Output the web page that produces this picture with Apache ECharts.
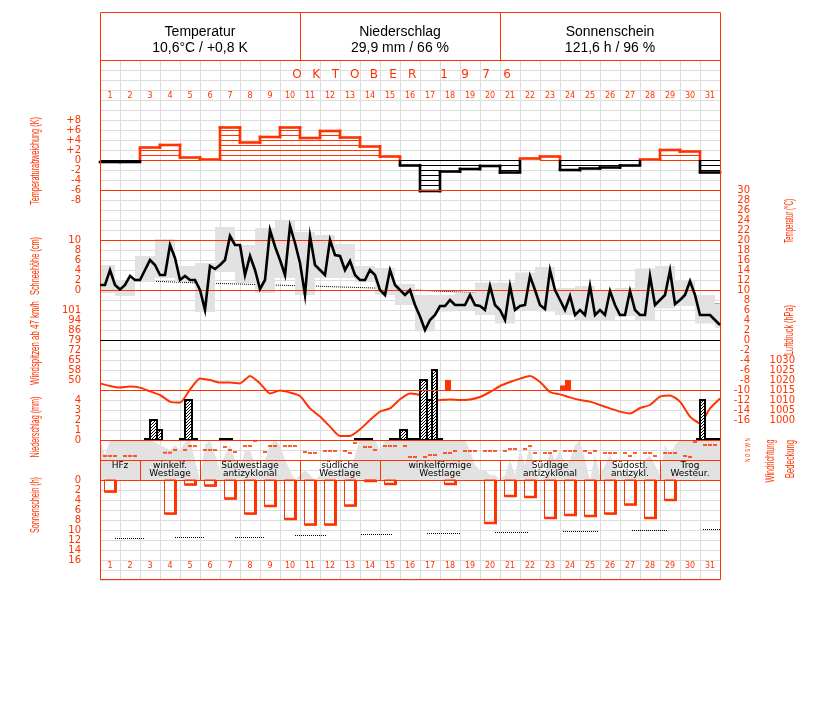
<!DOCTYPE html>
<html>
<head>
<meta charset="utf-8">
<script src="https://cdn.jsdelivr.net/npm/echarts@6.0.0/dist/echarts.min.js"></script>
<style>
html,body{margin:0;padding:0;background:#ffffff;}
#chart{width:827px;height:702px;}
</style>
</head>
<body>
<div id="chart"></div>
<script>
// ================= DATA =================
const days = ['1','2','3','4','5','6','7','8','9','10','11','12','13','14','15','16','17','18','19','20','21','22','23','24','25','26','27','28','29','30','31'];

// daily temperature anomaly (K)
const anomalyK = [-0.4,-0.4,2.5,3.0,0.5,0.1,6.5,3.5,4.6,6.5,4.4,5.8,4.5,2.7,0.7,-1.1,-6.2,-2.3,-1.8,-1.2,-2.5,0.3,0.7,-2.0,-1.7,-1.5,-1.1,0.1,2.0,1.7,-2.5];

// air temperature (°C), 4 readings per day, starting at the beginning of day 1
const tempObs = [11,
 11,14,11,10.1, 11,12.8,12,12, 14,16,15,13, 13,19,16.4,12, 12.8,12,12,10,
 6,14.8,14.2,15, 16,20.8,19,19, 13,16.8,14,10.2, 12,22,18.7,16, 13,22.8,19.4,15.4,
 9,20.8,15,14, 13,20,17,16.8, 14,15.8,13,12, 12,14,13,10, 9,14,11,10,
 9,10,7,4.7, 2,4,5,6.8, 6.8,8,7,7, 7,9,7,6.8, 6,10.8,7,6,
 4,10.8,6,6.8, 7,12.8,10,7, 6.2,14,10,8, 6,8.8,5,6, 5,10.8,5,6,
 5,9.8,7,5, 5,9.8,6,5, 5,12.8,7,8, 9,13.9,7.2,8, 9,11.8,9,5, 5,5,4,3];

// daily min / max temperature (°C), boxes per day (day 32 = 1 Nov, clipped)
const tempMax = [15,12,16.8,20.2,14.8,15.4,22.6,19,22.4,23.8,21.6,21,19.2,14.8,14.4,11.2,9,9,9.5,11.5,11.5,13.5,14.6,10.4,10.8,10,10.4,14.3,14.8,12,9,7.2];
const tempMin = [9.4,8.8,11.6,12.4,11.6,5.6,13.6,11.4,9.4,12.4,9,12.4,12.4,11.6,9,7,1.7,5.7,6,5,3.3,6,5.7,5,4,4,4.8,4,6.3,6.8,3.3,2.4];

// long-term mean temperature (°C) at day boundaries
const tempNormal = [12.0,11.9,11.8,11.7,11.55,11.4,11.3,11.2,11.05,10.95,10.85,10.75,10.6,10.5,10.35,10.15,9.95,9.75,9.6,9.4,9.25,9.1,8.9,8.7,8.5,8.35,8.2,8.05,7.9,7.7,7.45,7.2];

// air pressure (hPa), 2 readings per day
const pressure = [1018.3,1017,1016.2,1016.7,1016.2,1014.3,1012.5,1009.2,1008.7,1015.3,
 1020.8,1020,1018.7,1018.7,1018.3,1022,1018.3,1013.3,1014.7,1013.7,
 1012,1005.8,1001.7,996.7,992,992,995.3,1000,1004.2,1005.8,
 1010.4,1013.3,1012.5,1009.5,1010,1010.3,1010,1010.3,1011.5,1014,
 1017,1019,1020.7,1022,1019,1014,1012.8,1011.3,1010,1009.2,
 1007.5,1005.8,1004.2,1003.3,1006,1007.5,1011.7,1012.3,1009.2,1001.7,
 998.3,1005.8,1010.8];

// precipitation periods (day position from / to) and amount (mm)
const rainFrom = [2.25,2.5,2.85,4.0,4.25,4.6,6.0,12.75,14.5,15.0,15.35,16.0,16.35,16.6,16.85,29.85,30.0,30.25];
const rainTo   = [2.5,2.85,3.1,4.25,4.6,4.85,6.6,13.6,15.0,15.35,16.0,16.35,16.6,16.85,17.1,30.0,30.25,31.0];
const rainMM   = [0.1,2.0,1.0,0.1,4.0,0.1,0.1,0.1,0.1,1.0,0.1,6.0,4.0,7.0,0.1,0.1,4.0,0.1];

// wind gusts (km/h)
const gustFrom = [17.25,23.0,23.25];
const gustTo   = [17.55,23.25,23.55];
const gustKmh  = [50,46,50];

// wind direction (degrees), 3 readings per day (null = calm)
const windDir = [72,72,72, 72,72,72, null,null,null, 131,131,180, 180,252,252,
 180,180,180, 234,180,144, 252,252,342, 144,252,252, 252,252,252,
 144,126,126, 162,162,162, 162,126,306, 234,234,180, 252,252,252,
 252,54,54, 54,90,90, 126,126,162, 162,162,162, 162,162,162,
 162,198,198, 198,252,126, 126,126,162, 162,162,162, 162,126,162,
 126,126,126, 126,72,126, 126,126,72, 126,126,126, 72,54,324, 270,270,270];

// cloud cover (octas), 4 readings per day
const cloudOcta = [8,
 5,8,8,8, 8,8,8,8, 8,8,7.5,7, 6.5,6,7,6, 7.5,8,4,0,
 7,8,5,2, 5,7,4,2, 6,6,3,1, 4,7,8,7, 4,2,0,1,
 2,1,0,1, 1,3,1,2, 3,2,5,8, 8,8,8,6, 8,8,8,8,
 8,8,8,8, 8,8,8,8, 8,8,8,8, 8,6,3,2, 2,1,1,0,
 1,4,1,6, 3,7,2,0, 1,6,4,6, 3,4,7,8, 4,0,5,1,
 3,5,3,1, 2,1,2,1, 4,5,3,1, 7,5,7,8, 8,8,8,8, 8,8,8,8];

// daily sunshine duration (h)
const sunHours = [2.4,0,0,6.8,1.0,1.2,3.8,6.8,5.3,7.9,9.0,9.0,5.2,0.3,0.9,0,0,0.9,0,8.7,3.3,3.5,7.7,7.1,7.3,6.8,5.0,7.7,4.1,0,0];

// astronomically possible sunshine (h) for periods
const sunPossFrom = [0.75,3.75,6.75,9.75,13.05,16.35,19.75,23.15,26.6,30.15];
const sunPossTo   = [2.2,5.2,8.2,11.3,14.65,18.0,21.4,24.9,28.4,31.0];
const sunPossH    = [11.6,11.4,11.4,11.0,10.8,10.6,10.4,10.2,10.0,9.8];

// weather types (Grosswetterlagen)
const gwlFrom  = [0,2,5,10,14,20,25,28];
const gwlTo    = [2,5,10,14,20,25,28,31];
const gwlLine1 = ['HFz','winkelf.','Südwestlage','südliche','winkelförmige','Südlage','Südostl.','Trog'];
const gwlLine2 = ['','Westlage','antizyklonal','Westlage','Westlage','antizyklonal','antizykl.','Westeur.'];

// tick labels
const anomalyTicks = {'8':'+8','6':'+6','4':'+4','2':'+2','0':'0','-2':'-2','-4':'-4','-6':'-6','-8':'-8'};
const snowTicks = [10,8,6,4,2,0];
const windTicks = ['50','58','65','72','79','86','94','101'];
const precipTicks = [4,3,2,1,0];
const sunTicks = [0,2,4,6,8,10,12,14,16];
const tempTicks = [30,28,26,24,22,20,18,16,14,12,10,8,6,4,2,0,-2,-4,-6,-8,-10,-12,-14,-16];
const pressureTicks = [1030,1025,1020,1015,1010,1005,1000];

// ================= STYLE / LAYOUT =================
const RED = '#ff3300';
const GRAYFILL = '#e2e2e2';
const GRIDC = '#dddddd';
const FONT_SMALL = '"DejaVu Sans", Verdana, sans-serif';
const FONT_TEXT = '"Liberation Sans", Arial, sans-serif';

const G = {left:100, top:60, width:620, height:520};
const GB = G.top + G.height;
const WIND_STEP = 51/7;

const hatch = document.createElement('canvas');
hatch.width = 3; hatch.height = 3;
(function(){const c = hatch.getContext('2d'); c.fillStyle='#fff'; c.fillRect(0,0,3,3); c.fillStyle='#000';
 for (let k=0;k<3;k++) c.fillRect(k,2-k,1,1);})();

const mctx = document.createElement('canvas').getContext('2d');
function fitText(text, cx, cy, len, size, color, rot) {
  const font = size + 'px ' + FONT_TEXT;
  mctx.font = font;
  const w = mctx.measureText(text).width || 1;
  return {type:'text', x:cx, y:cy, rotation:rot, scaleX: len/w, z:100,
    style:{text:text, font:font, fill:color, align:'center', verticalAlign:'middle', textAlign:'center', textVerticalAlign:'middle'}};
}

function hiddenY(min, max) {
  return {type:'value', gridIndex:0, min:min, max:max, show:true, position:'left',
    axisLine:{show:false, onZero:false}, axisTick:{show:false}, splitLine:{show:false}, axisLabel:{show:false}};
}
function labelY(min, max, interval, pos, margin, fmt, inverse) {
  return {type:'value', gridIndex:0, min:min, max:max, interval:interval, position:pos, inverse:!!inverse,
    axisLine:{show:false, onZero:false}, axisTick:{show:false}, splitLine:{show:false},
    axisLabel:{show:true, color:RED, fontSize:10, fontFamily:FONT_SMALL, margin:margin,
      align: pos === 'right' ? 'right' : 'right',
      formatter:function(v){ return fmt(Math.round(v*1000)/1000); }}};
}

// ================= RENDERERS =================
function renderAnomaly(params, api) {
  const i = params.dataIndex;
  const v = anomalyK[i];
  const prev = i > 0 ? anomalyK[i-1] : null;
  const x0 = api.coord([i, 0])[0], x1 = api.coord([i+1, 0])[0];
  const y = function(k){ return api.coord([0, k])[1]; };
  const col = v >= 0 ? RED : '#000';
  const sgn = v >= 0 ? 1 : -1;
  const ch = [];
  for (let k = 0; k < Math.abs(v) - 0.35; k++) {
    const yy = Math.round(y(sgn*k)) + 0.5;
    ch.push({type:'line', shape:{x1:x0, y1:yy, x2:x1, y2:yy}, style:{stroke:col, lineWidth:1}});
  }
  ch.push({type:'line', shape:{x1:x0, y1:y(v), x2:x1, y2:y(v)}, style:{stroke:col, lineWidth:2.6, lineCap:'square'}});
  if (prev !== null) {
    if ((prev >= 0) === (v >= 0)) {
      ch.push({type:'line', shape:{x1:x0, y1:y(prev), x2:x0, y2:y(v)}, style:{stroke:col, lineWidth:2.6, lineCap:'square'}});
    } else {
      ch.push({type:'line', shape:{x1:x0, y1:y(prev), x2:x0, y2:y(0)}, style:{stroke: prev >= 0 ? RED : '#000', lineWidth:2.6}});
      ch.push({type:'line', shape:{x1:x0, y1:y(0), x2:x0, y2:y(v)}, style:{stroke:col, lineWidth:2.6}});
    }
  }
  return {type:'group', children:ch};
}

function renderTempBox(params, api) {
  const p0 = api.coord([api.value(0), api.value(3)]);
  const p1 = api.coord([api.value(1), api.value(2)]);
  return {type:'rect', shape:{x:p0[0], y:p0[1], width:p1[0]-p0[0], height:p1[1]-p0[1]}, style:{fill:GRAYFILL}};
}

function renderRain(params, api) {
  const p0 = api.coord([api.value(0), api.value(2)]);
  const p1 = api.coord([api.value(1), 0]);
  return {type:'rect', shape:{x:p0[0], y:p0[1], width:p1[0]-p0[0], height:p1[1]-p0[1]},
    style:{fill:{image:hatch, repeat:'repeat'}, stroke:'#000', lineWidth:2}};
}

function renderGust(params, api) {
  const p0 = api.coord([api.value(0), api.value(2)]);
  const p1 = api.coord([api.value(1), -1]);
  return {type:'rect', shape:{x:p0[0], y:p0[1], width:p1[0]-p0[0], height:p1[1]-p0[1]}, style:{fill:RED}};
}

function renderSun(params, api) {
  const h = api.value(1);
  if (!h) return null;
  const i = params.dataIndex;
  const x0 = api.coord([i, 0])[0];
  const yt = api.coord([0, 0])[1], yb = api.coord([0, h])[1];
  return {type:'group', children:[
    {type:'rect', shape:{x:x0+4.5, y:yt, width:11.5, height:yb-yt}, style:{fill:'none', stroke:RED, lineWidth:1}},
    {type:'line', shape:{x1:x0+15.5, y1:yt, x2:x0+15.5, y2:yb}, style:{stroke:RED, lineWidth:3}},
    {type:'line', shape:{x1:x0+4.5, y1:yb-0.5, x2:x0+17, y2:yb-0.5}, style:{stroke:RED, lineWidth:2.5}}
  ]};
}

function renderSunPoss(params, api) {
  const p0 = api.coord([api.value(0), api.value(2)]);
  const p1 = api.coord([api.value(1), api.value(2)]);
  const yy = Math.round(p0[1]) + 0.5;
  return {type:'line', shape:{x1:p0[0], y1:yy, x2:p1[0], y2:yy}, style:{stroke:'#000', lineWidth:1, lineDash:[1,1]}};
}

function renderGwl(params, api) {
  const i = params.dataIndex;
  const xa = api.coord([gwlFrom[i], 4])[0], xb = api.coord([gwlTo[i], 4])[0];
  const yt = api.coord([0, 4])[1], yb = api.coord([0, 0])[1];
  const cx = (xa + xb) / 2;
  const ch = [];
  if (i > 0) ch.push({type:'line', shape:{x1:Math.round(xa)+0.5, y1:yt, x2:Math.round(xa)+0.5, y2:yb}, style:{stroke:RED, lineWidth:1}});
  ch.push({type:'text', x:cx, y:yt + 5.5, style:{text:gwlLine1[i], font:'9px ' + FONT_SMALL, fill:'#000', align:'center', verticalAlign:'middle'}});
  if (gwlLine2[i]) ch.push({type:'text', x:cx, y:yt + 13.5, style:{text:gwlLine2[i], font:'9px ' + FONT_SMALL, fill:'#000', align:'center', verticalAlign:'middle'}});
  return {type:'group', children:ch};
}

// ================= AXES =================
const yAxes = [
  // 0 background grid (10 px rows)
  {type:'value', gridIndex:0, min:0, max:52, interval:1, position:'left',
   axisLine:{show:false, onZero:false}, axisTick:{show:false}, axisLabel:{show:false},
   splitLine:{show:true, lineStyle:{color:GRIDC, width:1}}},
  // 1 temperature anomaly (K)
  labelY(-84, 20, 2, 'left', 19, function(v){ return anomalyTicks[String(v)] || ''; }),
  // 2 temperature (°C) right
  labelY(-48, 56, 2, 'right', 30, function(v){ return tempTicks.indexOf(v) >= 0 ? String(v) : ''; }),
  // 3 pressure (hPa) right
  labelY(920, 1180, 5, 'right', 75, function(v){ return pressureTicks.indexOf(v) >= 0 ? String(v) : ''; }),
  // 4 snow depth (cm)
  labelY(-58, 46, 2, 'left', 19, function(v){ return snowTicks.indexOf(v) >= 0 ? String(v) : ''; }),
  // 5 wind gust (tick steps)
  labelY(-20, 32, 1, 'left', 19, function(v){ return (v >= 0 && v < windTicks.length) ? windTicks[v] : ''; }),
  // 6 precipitation (mm)
  labelY(-14, 38, 1, 'left', 19, function(v){ return precipTicks.indexOf(v) >= 0 ? String(v) : ''; }),
  // 7 sunshine (h), downward
  labelY(-84, 20, 2, 'left', 19, function(v){ return sunTicks.indexOf(v) >= 0 ? String(v) : ''; }, true),
  // 8 cloud cover (octas)
  hiddenY(-20, 84),
  // 9 wind direction (deg)
  hiddenY(-2160, 7200)
];

const xAxes = [
  {type:'value', gridIndex:0, min:0, max:31, interval:1, position:'bottom',
   axisLine:{show:false, onZero:false}, axisTick:{show:false}, axisLabel:{show:false},
   splitLine:{show:true, lineStyle:{color:GRIDC, width:1}}},
  {type:'category', gridIndex:0, data:days, position:'top', offset:-36, boundaryGap:true,
   axisLine:{show:false, onZero:false}, axisTick:{show:false}, splitLine:{show:false},
   axisLabel:{show:true, interval:0, color:RED, fontSize:8, fontFamily:FONT_SMALL, margin:0, verticalAlign:'middle'}},
  {type:'category', gridIndex:0, data:days, position:'bottom', offset:-14.5, boundaryGap:true,
   axisLine:{show:false, onZero:false}, axisTick:{show:false}, splitLine:{show:false},
   axisLabel:{show:true, interval:0, color:RED, fontSize:8, fontFamily:FONT_SMALL, margin:0, verticalAlign:'middle'}}
];

// ================= SERIES =================
const q4 = function(_, i){ return i / 4; };
const series = [
  {type:'line', name:'Bedeckung', xAxisIndex:0, yAxisIndex:8, z:1, silent:true, symbol:'none',
   data: cloudOcta.map(function(o,i){ return [q4(o,i), o]; }),
   lineStyle:{width:0, opacity:0}, areaStyle:{color:GRAYFILL, opacity:1}},
  {type:'line', name:'Normal', xAxisIndex:0, yAxisIndex:2, z:1, silent:true, symbol:'none',
   data: tempNormal.map(function(t,i){ return [i, t]; }),
   lineStyle:{color:'#000', width:1, type:[1,1]}},
  {type:'custom', name:'TminTmax', xAxisIndex:0, yAxisIndex:2, z:2, clip:true, silent:true,
   data: tempMax.map(function(mx,i){ return [i-0.25, i+0.75, tempMin[i], mx]; }),
   encode:{x:[0,1], y:[2,3]}, renderItem:renderTempBox},
  {type:'line', name:'Luftdruck', xAxisIndex:0, yAxisIndex:3, z:4, silent:true, symbol:'none', smooth:0.2,
   data: pressure.map(function(p,i){ return [i/2, p]; }),
   lineStyle:{color:RED, width:2}},
  {type:'custom', name:'Abweichung', xAxisIndex:0, yAxisIndex:1, z:5, silent:true,
   data: anomalyK.map(function(v,i){ return [i+0.5, v]; }),
   encode:{x:0, y:1}, renderItem:renderAnomaly},
  {type:'custom', name:'Niederschlag', xAxisIndex:0, yAxisIndex:6, z:6, silent:true,
   data: rainMM.map(function(m,i){ return [rainFrom[i], rainTo[i], m]; }),
   encode:{x:[0,1], y:2}, renderItem:renderRain},
  {type:'custom', name:'Windspitzen', xAxisIndex:0, yAxisIndex:5, z:6, silent:true,
   data: gustKmh.map(function(k,i){ return [gustFrom[i], gustTo[i], (k-50)/WIND_STEP]; }),
   encode:{x:[0,1], y:2}, renderItem:renderGust},
  {type:'scatter', name:'Windrichtung', xAxisIndex:0, yAxisIndex:9, z:7, silent:true,
   symbol:'rect', symbolSize:[4,2], itemStyle:{color:RED},
   data: windDir.map(function(d,k){ return [Math.floor(k/3) + 0.25*(k%3+1), d === null ? '-' : d]; })},
  {type:'custom', name:'Wetterlage', xAxisIndex:0, yAxisIndex:8, z:8, silent:true,
   data: gwlFrom.map(function(f,i){ return [(f+gwlTo[i])/2, 2]; }),
   encode:{x:0, y:1}, renderItem:renderGwl},
  {type:'line', name:'Temperatur', xAxisIndex:0, yAxisIndex:2, z:60, silent:true, symbol:'none',
   data: tempObs.map(function(t,i){ return [q4(t,i), t]; }),
   lineStyle:{color:'#000', width:2.6, join:'miter'}},
  {type:'custom', name:'Sonnenschein', xAxisIndex:0, yAxisIndex:7, z:6, silent:true,
   data: sunHours.map(function(h,i){ return [i+0.5, h]; }),
   encode:{x:0, y:1}, renderItem:renderSun},
  {type:'custom', name:'SonneMoeglich', xAxisIndex:0, yAxisIndex:7, z:6, silent:true,
   data: sunPossH.map(function(h,i){ return [sunPossFrom[i], sunPossTo[i], h]; }),
   encode:{x:[0,1], y:2}, renderItem:renderSunPoss}
];

// ================= DECORATION =================
const graphics = [];
const FR = {x:100.5, y:12.5, w:620, h:567};
graphics.push({type:'rect', z:50, shape:{x:FR.x, y:FR.y, width:FR.w, height:FR.h}, style:{fill:'none', stroke:RED, lineWidth:1}});
const rules = [[60,RED],[190,RED],[240,RED],[290,RED],[340,'#000'],[390,RED],[440,RED],[460,RED],[480,RED]];
rules.forEach(function(r){
  graphics.push({type:'line', z:50, shape:{x1:100, y1:r[0]+0.5, x2:720, y2:r[0]+0.5}, style:{stroke:r[1], lineWidth:1}});
});
[300,500].forEach(function(x){
  graphics.push({type:'line', z:50, shape:{x1:x+0.5, y1:12, x2:x+0.5, y2:60}, style:{stroke:RED, lineWidth:1}});
});
const headTitles = ['Temperatur','Niederschlag','Sonnenschein'];
const headValues = ['10,6°C / +0,8 K','29,9 mm / 66 %','121,6 h / 96 %'];
const headCx = [200,400,610];
headTitles.forEach(function(t,i){
  graphics.push({type:'text', z:100, x:headCx[i], y:32, style:{text:t, font:'14px ' + FONT_TEXT, fill:'#000', align:'center', verticalAlign:'middle'}});
  graphics.push({type:'text', z:100, x:headCx[i], y:48, style:{text:headValues[i], font:'14px ' + FONT_TEXT, fill:'#000', align:'center', verticalAlign:'middle'}});
});
const monthWord = 'OKTOBER', yearWord = '1976';
for (let k=0;k<monthWord.length;k++) graphics.push({type:'text', z:100, x:297 + 19.2*k, y:75,
  style:{text:monthWord[k], font:'12px ' + FONT_SMALL, fill:RED, align:'center', verticalAlign:'middle'}});
for (let k=0;k<yearWord.length;k++) graphics.push({type:'text', z:100, x:444 + 21*k, y:75,
  style:{text:yearWord[k], font:'12px ' + FONT_SMALL, fill:RED, align:'center', verticalAlign:'middle'}});

const R90 = Math.PI/2;
graphics.push(fitText('Temperaturabweichung (K)', 36, 161, 88, 12, RED, R90));
graphics.push(fitText('Schneehöhe (cm)', 36, 266, 58, 12, RED, R90));
graphics.push(fitText('Windspitzen ab 47 km/h', 36, 343, 84, 12, RED, R90));
graphics.push(fitText('Niederschlag (mm)', 36, 427, 61, 12, RED, R90));
graphics.push(fitText('Sonnenschein (h)', 36, 505, 56, 12, RED, R90));
graphics.push(fitText('Temperatur (°C)', 790, 221, 44, 12, RED, R90));
graphics.push(fitText('Luftdruck (hPa)', 790, 330, 50, 12, RED, R90));
graphics.push(fitText('Windrichtung', 771, 461, 43, 12, RED, R90));
graphics.push(fitText('Bedeckung', 791, 459, 38, 12, RED, R90));
graphics.push(fitText('N O S W N', 748, 450, 24, 7, RED, R90));

// ================= CHART =================
const chart = echarts.init(document.getElementById('chart'), null, {renderer:'canvas', width:827, height:702});
chart.setOption({
  backgroundColor:'#ffffff',
  animation:false,
  grid:[{left:G.left, top:G.top, width:G.width, height:G.height, containLabel:false, outerBoundsMode:'none', show:false}],
  xAxis:xAxes,
  yAxis:yAxes,
  series:series,
  graphic:{elements:graphics}
});
</script>
</body>
</html>
